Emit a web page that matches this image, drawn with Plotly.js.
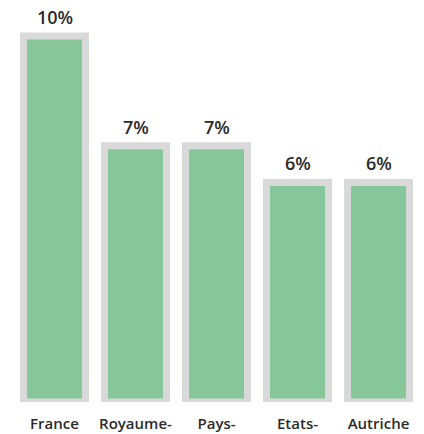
<!DOCTYPE html>
<html><head><meta charset="utf-8">
<script src="https://cdn.plot.ly/plotly-3.0.1.min.js"></script>
<style>html,body{margin:0;padding:0;background:#fff}#chart{width:424px;height:434px}</style>
</head><body><div id="chart"></div>
<script>
const countries = ["France", "Royaume-", "Pays-", "Etats-", "Autriche"];
const shares = [10, 7, 7, 6, 6];
const shareLabels = ["10%", "7%", "7%", "6%", "6%"];

const trace = {
  type: "bar",
  x: countries,
  y: shares,
  width: 0.765,
  marker: {color: "#86c699", line: {color: "#d9d9d9", width: 7}},
  hoverinfo: "none"
};
const annotations = countries.map((c, i) => ({
  x: c, y: shares[i], text: shareLabels[i],
  showarrow: false, yanchor: "bottom", yshift: 5,
  font: {family: "Open Sans, sans-serif", size: 18, color: "#2b2b2b", weight: 600}
}));
const layout = {
  width: 424, height: 434,
  margin: {l: 14, r: 5, t: 2, b: 32},
  paper_bgcolor: "#fff", plot_bgcolor: "#fff",
  showlegend: false,
  annotations: annotations,
  xaxis: {showgrid: false, zeroline: false, showline: false, ticks: "",
          tickfont: {family: "Open Sans, sans-serif", size: 15, color: "#2b2b2b", weight: 600},
          ticklabelstandoff: 11},
  yaxis: {range: [0, 10.93], visible: false, showgrid: false, zeroline: false}
};
Plotly.newPlot("chart", [trace], layout, {staticPlot: true});
</script></body></html>
